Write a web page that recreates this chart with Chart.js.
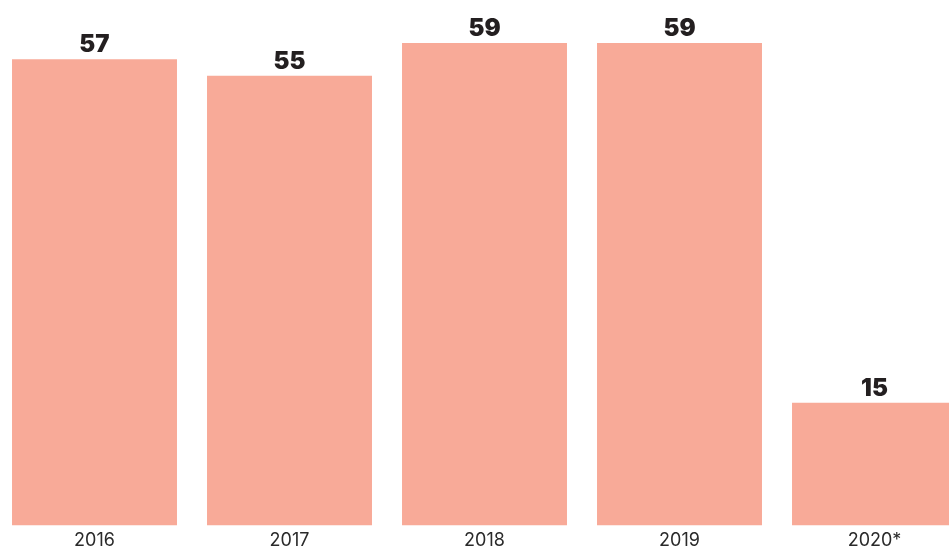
<!DOCTYPE html>
<html><head><meta charset="utf-8">
<script src="https://cdn.jsdelivr.net/npm/chart.js@4"></script>
<style>
html,body{margin:0;padding:0;background:#fff;overflow:hidden;width:949px;height:549px;}
#wrap{position:absolute;left:-3px;top:0;width:975px;height:555px;}
</style></head><body>
<div id="wrap"><canvas id="c"></canvas></div>
<script>
const categories = ["2016","2017","2018","2019","2020*"];
const values = [57,55,59,59,15];

const valueLabels = {
  id:'valueLabels',
  afterDatasetsDraw(chart){
    const ctx = chart.ctx;
    const meta = chart.getDatasetMeta(0);
    ctx.save();
    ctx.fillStyle = '#231f20';
    ctx.font = '900 24px Inter';
    ctx.textAlign = 'center';
    ctx.textBaseline = 'alphabetic';
    meta.data.forEach((bar,i)=>{
      ctx.fillText(String(values[i]), bar.x, bar.y - 7);
    });
    ctx.restore();
  }
};

new Chart(document.getElementById('c'), {
  type:'bar',
  data:{labels:categories, datasets:[{data:values, backgroundColor:'#f8aa98', categoryPercentage:1, barPercentage:0.846}]},
  options:{
    responsive:true, maintainAspectRatio:false, animation:false,
    layout:{padding:{top:0,bottom:0,left:0,right:0}},
    plugins:{legend:{display:false}, tooltip:{enabled:false}},
    scales:{
      x:{grid:{display:false, drawTicks:false, tickLength:0}, border:{display:false},
         ticks:{color:'#2a2a2a', font:{family:'Inter', size:18}, padding:4}},
      y:{display:false, min:0, max:64.25}
    }
  },
  plugins:[valueLabels]
});
</script>
</body></html>
